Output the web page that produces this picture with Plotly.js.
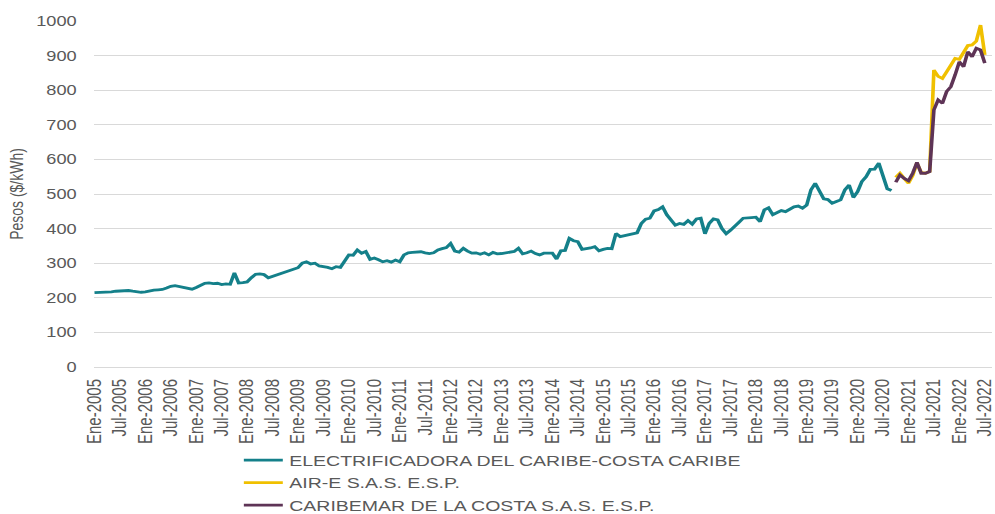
<!DOCTYPE html>
<html>
<head>
<meta charset="utf-8">
<script src="https://cdn.plot.ly/plotly-3.0.1.min.js"></script>
<style>
html, body { margin:0; padding:0; background:#ffffff; overflow:hidden; }
#wrap { width:995px; height:514px; overflow:hidden; }
#chart { width:766px; height:514px; transform:scaleX(1.29896); transform-origin:0 0; }
</style>
</head>
<body>
<div id="wrap"><div id="chart"></div></div>
<script>
// ---- categories (monthly, Ene-2005 .. Jul-2022) ----
const monthNames = ['Ene','Feb','Mar','Abr','May','Jun','Jul','Ago','Sep','Oct','Nov','Dic'];
const years = [2005,2006,2007,2008,2009,2010,2011,2012,2013,2014,2015,2016,2017,2018,2019,2020,2021,2022];
const lastCategory = 'Jul-2022';
const categories = [];
outer: for (const y of years) {
  for (const m of monthNames) {
    categories.push(m + '-' + y);
    if (m + '-' + y === lastCategory) break outer;
  }
}

// ---- tick labels (every six months) ----
const tickLabels = [
  'Ene-2005','Jul-2005','Ene-2006','Jul-2006','Ene-2007','Jul-2007','Ene-2008','Jul-2008',
  'Ene-2009','Jul-2009','Ene-2010','Jul-2010','Ene-2011','Jul-2011','Ene-2012','Jul-2012',
  'Ene-2013','Jul-2013','Ene-2014','Jul-2014','Ene-2015','Jul-2015','Ene-2016','Jul-2016',
  'Ene-2017','Jul-2017','Ene-2018','Jul-2018','Ene-2019','Jul-2019','Ene-2020','Jul-2020',
  'Ene-2021','Jul-2021','Ene-2022','Jul-2022'
];
const yTicks = [0,100,200,300,400,500,600,700,800,900,1000];

// ---- series names ----
const nameElectricaribe = 'ELECTRIFICADORA DEL CARIBE-COSTA CARIBE';
const nameAire = 'AIR-E S.A.S. E.S.P.';
const nameCaribemar = 'CARIBEMAR DE LA COSTA S.A.S. E.S.P.';

// ---- values ($/kWh), Ene-2005 .. Sep-2020 ----
const electricaribe = [
  215,215,216,216,217,219,220,220,221,219,217,216,
  217,220,222,223,224,228,233,235,233,231,228,225,
  230,237,242,243,241,242,238,240,239,272,243,244,
  246,258,268,269,267,258,262,266,270,276,278,282,
  287,300,304,298,300,292,291,288,284,290,288,305,
  324,323,338,329,334,311,315,310,304,307,303,309,
  304,324,330,331,332,333,330,328,330,338,342,345,
  357,335,332,343,335,329,330,326,330,324,331,327,
  328,330,333,334,343,327,330,335,328,324,329,330,
  329,312,336,337,372,365,362,340,341,344,348,336,
  340,343,342,386,377,380,381,384,388,415,427,430,
  451,455,463,440,425,410,415,412,423,413,428,430,
  385,415,428,425,400,385,395,405,418,430,432,432,
  433,420,454,460,440,445,452,449,455,463,465,459,
  468,512,531,510,486,484,473,478,483,512,526,490,
  507,536,550,571,572,589,555,515,510
];
// ---- values ($/kWh), Oct-2020 .. Jul-2022 ----
const aire = [
  548,560,545,531,553,590,562,560,565,858,840,834,
  853,872,892,889,910,929,931,942,988,902
];
const caribemar = [
  534,555,545,538,560,591,560,560,565,743,772,762,
  796,810,844,882,868,911,897,921,916,878
];

const xElectricaribe = categories.slice(0, electricaribe.length);
const xNew = categories.slice(electricaribe.length, electricaribe.length + aire.length);

const traces = [
  { type:'scatter', mode:'lines', name:nameElectricaribe, x:xElectricaribe, y:electricaribe,
    line:{ color:'#14808a', width:2.8 } },
  { type:'scatter', mode:'lines', name:nameAire, x:xNew, y:aire,
    line:{ color:'#f0c000', width:2.8 } },
  { type:'scatter', mode:'lines', name:nameCaribemar, x:xNew, y:caribemar,
    line:{ color:'#5e3456', width:2.8 } }
];

const layout = {
  width:766, height:514,
  margin:{ l:72, r:2, t:21, b:147, pad:0, autoexpand:false },
  paper_bgcolor:'#ffffff', plot_bgcolor:'#ffffff',
  font:{ family:'"Liberation Sans", Arial, sans-serif', color:'#595959', size:14 },
  showlegend:true,
  legend:{ orientation:'v', x:0.16, xanchor:'left', y:-0.222, yanchor:'top',
           font:{ size:15, color:'#595959' }, bgcolor:'rgba(0,0,0,0)', borderwidth:0,
           tracegroupgap:0, itemwidth:30 },
  xaxis:{ type:'category', categoryorder:'array', categoryarray:categories,
          range:[-0.23, 211.8], tickmode:'array', tickvals:tickLabels, ticktext:tickLabels,
          tickangle:-90, tickfont:{ size:15, color:'#595959' },
          showgrid:false, zeroline:false, showline:false, ticks:'',
          ticklabelstandoff:8, automargin:false, fixedrange:true },
  yaxis:{ range:[0,1000], tickmode:'array', tickvals:yTicks, ticks:'',
          showgrid:true, gridcolor:'#d9d9d9', gridwidth:1,
          zeroline:true, zerolinecolor:'#d9d9d9', zerolinewidth:1, showline:false,
          tickfont:{ size:14, color:'#595959' }, ticklabelstandoff:12,
          title:{ text:'Pesos ($/kWh)', font:{ size:14, color:'#595959' }, standoff:6 },
          automargin:false, fixedrange:true }
};

Plotly.newPlot('chart', traces, layout, { displayModeBar:false, staticPlot:true });
</script>
</body>
</html>
